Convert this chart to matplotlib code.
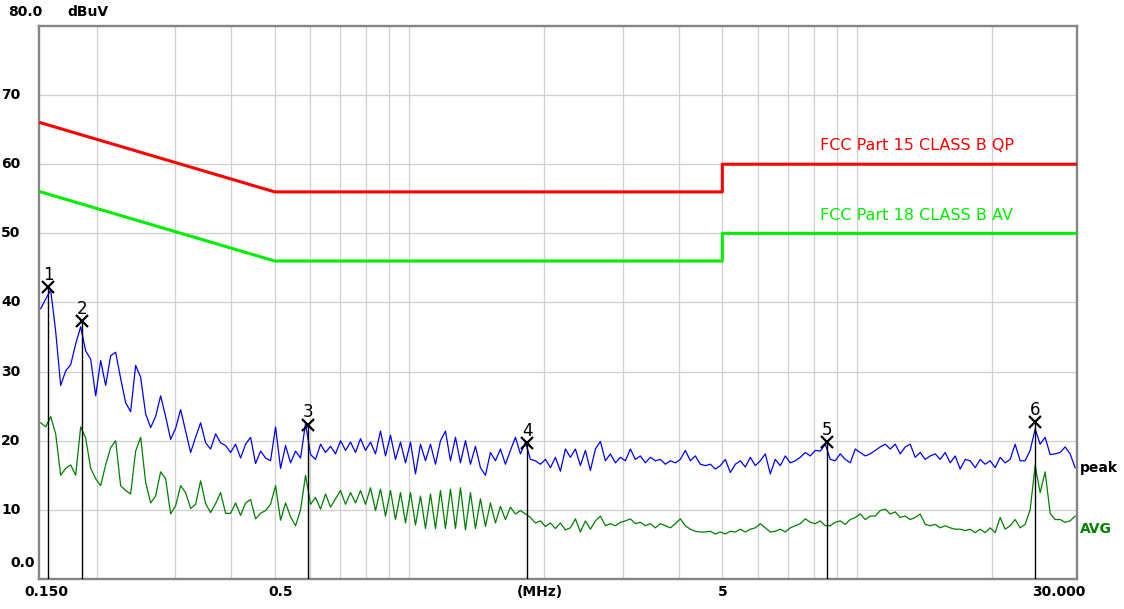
import numpy as np
import matplotlib.pyplot as plt
from matplotlib.transforms import blended_transform_factory

# conducted emission scan, 0.15 - 30 MHz, levels in dBuV
freq = np.geomspace(0.15, 30.7, 208)

peak = [
    39.1, 40.5, 41.8, 35.8, 28.0, 30.1, 31.0, 34.0, 36.5, 33.0,
    31.8, 26.5, 31.6, 28.0, 32.3, 32.8, 29.0, 25.5, 24.2, 30.9,
    29.2, 23.9, 21.9, 23.5, 26.5, 23.5, 20.2, 21.8, 24.5, 21.4,
    18.3, 20.5, 22.6, 19.7, 18.8, 21.0, 19.7, 19.3, 18.3, 19.5,
    17.5, 19.5, 20.5, 16.7, 18.5, 17.5, 17.1, 22.0, 16.0, 19.3,
    16.8, 18.5, 17.5, 22.5, 18.0, 17.3, 19.5, 18.3, 19.2, 18.1,
    20.0, 18.6, 19.8, 18.3, 20.3, 18.6, 19.8, 18.1, 21.4, 17.8,
    20.8, 17.3, 19.8, 16.8, 19.8, 15.2, 19.5, 17.1, 19.5, 16.6,
    20.0, 21.4, 17.1, 20.5, 16.8, 20.0, 16.6, 19.2, 16.1, 15.0,
    18.3, 17.1, 18.8, 16.6, 18.6, 20.5, 18.1, 19.8, 17.3, 17.1,
    16.6, 17.3, 16.1, 17.6, 15.6, 18.8, 17.6, 18.8, 16.4, 18.6,
    15.7, 18.8, 19.9, 17.1, 18.1, 16.8, 17.6, 17.1, 18.8, 17.3,
    17.8, 16.8, 17.6, 17.1, 17.3, 16.6, 17.1, 16.8, 17.3, 18.6,
    17.1, 17.8, 16.6, 16.4, 16.6, 15.9, 16.4, 17.3, 15.4, 16.6,
    17.1, 16.2, 17.6, 16.4, 17.1, 18.1, 15.2, 17.3, 16.4, 17.8,
    16.8, 17.1, 17.6, 18.3, 17.8, 18.6, 18.5, 19.5, 17.3, 17.1,
    18.1, 17.3, 16.8, 18.8, 18.3, 17.8, 18.1, 18.6, 19.1, 19.5,
    18.8, 19.5, 18.1, 19.1, 19.5, 17.6, 18.3, 17.3, 17.8, 18.1,
    17.3, 18.3, 16.8, 17.8, 15.9, 17.3, 17.1, 16.1, 17.3, 16.6,
    17.1, 16.1, 17.6, 16.8, 17.3, 19.5, 17.1, 17.1, 18.6, 21.7,
    19.5, 20.5, 18.0, 18.1, 18.3, 19.1, 18.1, 16.1,
]

avg = [
    22.6, 22.0, 23.5, 21.0, 15.0, 16.0, 16.5, 15.0, 22.0, 20.4,
    16.0, 14.5, 13.5, 16.5, 19.0, 20.0, 13.5, 12.8, 12.3, 18.5,
    20.5, 14.0, 11.0, 12.0, 15.5, 14.5, 9.4, 10.6, 13.5, 12.5,
    10.2, 10.8, 14.2, 10.9, 9.6, 10.9, 12.5, 9.5, 9.5, 11.0,
    9.2, 11.0, 11.5, 8.7, 9.5, 9.9, 10.8, 13.5, 8.5, 11.0,
    9.0, 7.7, 10.0, 15.0, 10.8, 11.8, 10.1, 12.3, 10.4, 11.6,
    12.8, 10.8, 12.5, 11.0, 12.8, 10.8, 13.2, 9.9, 13.0, 9.1,
    12.8, 8.6, 12.5, 8.1, 12.5, 7.8, 12.0, 7.3, 12.3, 7.3,
    12.8, 7.3, 13.0, 7.3, 13.2, 7.1, 12.5, 7.3, 11.6, 7.6,
    11.0, 8.1, 10.5, 8.6, 10.4, 9.4, 9.9, 9.4, 8.9, 8.1,
    8.4, 7.6, 8.1, 7.3, 8.1, 7.1, 7.4, 8.7, 6.8, 8.4,
    7.2, 8.4, 9.1, 7.7, 8.0, 7.7, 8.2, 8.4, 8.7, 8.0,
    8.2, 7.7, 8.0, 7.4, 8.0, 7.7, 7.4, 8.0, 8.7, 7.7,
    7.2, 6.9, 6.8, 6.8, 6.9, 6.5, 6.8, 6.5, 6.9, 6.8,
    7.2, 6.8, 7.2, 7.4, 8.0, 7.4, 6.8, 6.9, 7.2, 6.8,
    7.4, 7.7, 8.0, 8.7, 8.2, 8.0, 8.4, 7.7, 7.7, 8.2,
    8.4, 7.9, 8.6, 8.9, 9.4, 8.6, 9.1, 9.1, 9.9, 10.1,
    9.4, 9.7, 8.9, 9.1, 8.6, 8.9, 9.4, 7.9, 7.7, 7.9,
    7.4, 7.7, 7.4, 7.2, 7.2, 7.0, 7.2, 6.7, 7.2, 6.7,
    7.4, 6.7, 8.9, 7.2, 7.7, 8.6, 7.4, 7.9, 10.0, 16.4,
    12.5, 15.5, 9.5, 8.6, 8.6, 8.2, 8.4, 9.1,
]

# limit lines
qp_freq = [0.15, 0.5, 5, 5, 31]
qp_limit = [66, 56, 56, 60, 60]
av_freq = [0.15, 0.5, 5, 5, 31]
av_limit = [56, 46, 46, 50, 50]

# marked peaks
marker_names = ['1', '2', '3', '4', '5', '6']
marker_freq = [0.1557, 0.1854, 0.594, 1.833, 8.57, 24.98]
marker_level = [42.2, 37.3, 22.3, 19.6, 19.8, 22.7]

ytick_values = [0, 10, 20, 30, 40, 50, 60, 70]
ytick_labels = ['0.0', '10', '20', '30', '40', '50', '60', '70']
xtick_labels = ['0.150', '0.5', '(MHz)', '5', '30.000']
xtick_at = [0.1541, 0.5154, 1.952, 5.0, 28.3]

grid_freq = [0.2, 0.3, 0.4, 0.5, 0.6, 0.7, 0.8, 0.9,
             1, 2, 3, 4, 5, 6, 7, 8, 9, 10, 20]

plt.rcParams['font.family'] = 'DejaVu Sans'

fig = plt.figure(figsize=(11.24, 6.09), dpi=100)
ax = fig.add_axes([0.0347, 0.0493, 0.9235, 0.908])
ax.set_xscale('log')
ax.set_xlim(0.1487, 31.0)
ax.set_ylim(0, 80)

ax.set_xticks(grid_freq)
ax.set_xticks([], minor=True)
ax.set_yticks(ytick_values[1:])
ax.tick_params(which='both', length=0, labelbottom=False, labelleft=False)
ax.grid(True, color='#cfcfcf', lw=0.9)
for s in ax.spines.values():
    s.set_color('#858585')
    s.set_linewidth(1.7)

ax.plot(qp_freq, qp_limit, color='#ff0000', lw=2.2, zorder=3)
ax.plot(av_freq, av_limit, color='#00ee00', lw=2.2, zorder=3)
ax.plot(freq, peak, color='#0000ff', lw=0.9, zorder=4)
ax.plot(freq, avg, color='#008000', lw=0.9, zorder=4)

ax.vlines(marker_freq, 0, marker_level, color='black', lw=1.0, zorder=5)
ax.plot(marker_freq, marker_level, 'x', color='black', ms=8, mew=1.6, zorder=6)
for name, f, lv in zip(marker_names, marker_freq, marker_level):
    ax.annotate(name, (f, lv), xytext=(0, 9), textcoords='offset points',
                ha='center', va='center', fontsize=12)

ax.text(8.27, 62.75, 'FCC Part 15 CLASS B QP', color='#ff0000',
        fontsize=11.5, va='center', ha='left')
ax.text(8.27, 52.6, 'FCC Part 18 CLASS B AV', color='#00ee00',
        fontsize=11.5, va='center', ha='left')

ax.text(31.5, 16.1, 'peak', color='black', fontsize=10, fontweight='bold',
        va='center', ha='left', clip_on=False)
ax.text(31.5, 7.25, 'AVG', color='#008000', fontsize=10, fontweight='bold',
        va='center', ha='left', clip_on=False)

# axis labels sit outside the plot box
ytrans = blended_transform_factory(fig.transFigure, ax.transData)
for v, lab in zip(ytick_values, ytick_labels):
    if v == 0:
        fig.text(0.009, 2.3, lab, transform=ytrans, fontsize=10,
                 fontweight='bold', va='center', ha='left')
    else:
        fig.text(0.001, v, lab, transform=ytrans, fontsize=10,
                 fontweight='bold', va='center', ha='left')

xtrans = blended_transform_factory(ax.transData, fig.transFigure)
for f, lab in zip(xtick_at, xtick_labels):
    fig.text(f, 0.0271, lab, transform=xtrans, fontsize=10,
             fontweight='bold', va='center', ha='center')

fig.text(0.007, 0.98, '80.0', fontsize=10, fontweight='bold', va='center', ha='left')
fig.text(0.06, 0.98, 'dBuV', fontsize=10, fontweight='bold', va='center', ha='left')

fig.savefig('out.png', dpi=100)
